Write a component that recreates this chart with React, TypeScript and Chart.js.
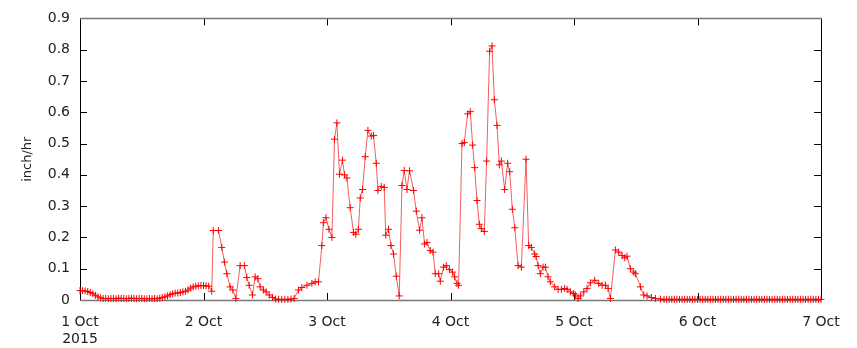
import React, { useEffect, useRef } from "react";
import { Chart, registerables } from "chart.js";

Chart.register(...registerables);

// hours since 1 Oct 2015 00:00
const hours: number[] = [
  0, 0.5, 1, 1.5, 2, 2.5, 3, 3.5, 4, 4.5, 5, 5.5, 6, 6.5, 7, 7.5, 8, 8.5, 9, 9.5,
  10, 10.5, 11, 11.5, 12, 12.5, 13, 13.5, 14, 14.5, 15, 15.5, 16, 16.5, 17, 17.5, 18, 18.5, 19, 19.5,
  20, 20.5, 21, 21.5, 22, 22.5, 23, 23.5, 24, 24.5, 25, 25.6,
  25.9, 26.9, 27.56, 28.06, 28.53, 29.17, 29.7, 30.28, 31.12, 31.95,
  32.42, 32.87, 33.51, 34.04, 34.56, 35.0, 35.65, 36.17, 36.76, 37.4,
  38, 38.6, 39.2, 39.8, 40.4, 41, 41.6, 42.46, 43.1, 44.1,
  45.06, 45.7, 46.35, 47.0, 47.3, 47.8, 48.38, 48.95, 49.46, 49.92,
  50.43, 51.01, 51.4, 51.87, 52.51, 53.15, 53.6, 54.1, 54.46, 54.9,
  55.43, 55.95, 56.6, 57.04, 57.57, 57.9, 58.54, 59.12, 59.42, 59.96,
  60.43, 60.93, 61.46, 62.04, 62.57, 63.01, 63.54, 64.04, 64.82, 65.35,
  65.99, 66.45, 66.96, 67.43, 68.07, 68.6, 69.04, 69.69, 70.02, 70.66,
  71.18, 71.82, 72.4, 72.8, 73.26, 73.57, 74.24, 74.68, 75.33, 75.85,
  76.3, 76.69, 77.15, 77.6, 77.99, 78.57, 79.02, 79.6, 80.07, 80.52,
  81.04, 81.49, 81.88, 82.52, 83.1, 83.5, 84.02, 84.5, 85.13, 85.77,
  86.68, 87.19, 87.71, 88.36, 88.63, 89.02, 89.46, 89.99, 90.44, 90.96,
  91.41, 92.25, 92.91, 93.55, 94.19, 94.66, 95.3, 95.94, 96.27, 96.8,
  97.25, 97.9, 98.54, 99.19, 100.03, 100.8, 101.46, 102.1, 102.63, 103.08,
  104.05, 104.69, 105.35, 105.86, 106.3, 106.97, 107.61, 107.94, 108.91, 109.55,
  110.2, 111.05, 111.83, 112.8,
  113.5, 114, 114.5, 115, 115.5, 116, 116.5, 117, 117.5, 118, 118.5, 119, 119.5, 120,
  120.5, 121, 121.5, 122, 122.5, 123, 123.5, 124, 124.5, 125, 125.5, 126, 126.5, 127,
  127.5, 128, 128.5, 129, 129.5, 130, 130.5, 131, 131.5, 132, 132.5, 133, 133.5, 134,
  134.5, 135, 135.5, 136, 136.5, 137, 137.5, 138, 138.5, 139, 139.5, 140, 140.5, 141,
  141.5, 142, 142.5, 143, 143.5, 144,
];

// rain rate, inch/hr
const rate: number[] = [
  0.03, 0.03, 0.029, 0.027, 0.024, 0.02, 0.015, 0.01, 0.007, 0.005,
  0.005, 0.004, 0.005, 0.005, 0.004, 0.006, 0.005, 0.005, 0.004, 0.005,
  0.006, 0.005, 0.004, 0.005, 0.005, 0.004, 0.004, 0.005, 0.004, 0.005,
  0.004, 0.006, 0.008, 0.01, 0.013, 0.017, 0.02, 0.022, 0.022, 0.024,
  0.026, 0.028, 0.032, 0.038, 0.042, 0.044, 0.045, 0.046, 0.046, 0.045,
  0.044, 0.028,
  0.222, 0.222, 0.168, 0.121, 0.084, 0.042, 0.032, 0.005, 0.11, 0.11,
  0.072, 0.047, 0.016, 0.074, 0.068, 0.042, 0.032, 0.026, 0.016, 0.008,
  0.003, 0.002, 0.002, 0.002, 0.002, 0.003, 0.005, 0.032, 0.04, 0.047,
  0.053, 0.058, 0.058, 0.174, 0.247, 0.263, 0.226, 0.2, 0.514, 0.566,
  0.402, 0.447, 0.4, 0.39, 0.295, 0.216, 0.21, 0.226, 0.326, 0.353,
  0.458, 0.542, 0.524, 0.526, 0.437, 0.35, 0.363, 0.36, 0.207, 0.226,
  0.174, 0.147, 0.076, 0.013, 0.366, 0.414, 0.353, 0.413, 0.35, 0.284,
  0.223, 0.263, 0.179, 0.184, 0.158, 0.153, 0.084, 0.084, 0.06, 0.105,
  0.11, 0.097, 0.089, 0.074, 0.053, 0.047, 0.5, 0.503, 0.595, 0.602,
  0.495, 0.423, 0.318, 0.242, 0.228, 0.219, 0.444, 0.795, 0.812, 0.64,
  0.558, 0.432, 0.444, 0.353, 0.437, 0.41, 0.29, 0.231, 0.11, 0.105,
  0.45, 0.174, 0.168, 0.147, 0.139, 0.11, 0.084, 0.105, 0.105, 0.074,
  0.058, 0.042, 0.034, 0.034, 0.037, 0.034, 0.026, 0.021, 0.016, 0.005,
  0.013, 0.026, 0.037, 0.055, 0.063, 0.053, 0.047, 0.047, 0.037, 0.005,
  0.16, 0.153, 0.142, 0.135, 0.14, 0.1, 0.089, 0.084, 0.042, 0.016,
  0.013, 0.008, 0.005, 0.003,
  0.002, 0.002, 0.002, 0.002, 0.002, 0.002, 0.002, 0.002, 0.002, 0.002, 0.002, 0.002, 0.002, 0.002,
  0.002, 0.002, 0.002, 0.002, 0.002, 0.002, 0.002, 0.002, 0.002, 0.002, 0.002, 0.002, 0.002, 0.002,
  0.002, 0.002, 0.002, 0.002, 0.002, 0.002, 0.002, 0.002, 0.002, 0.002, 0.002, 0.002, 0.002, 0.002,
  0.002, 0.002, 0.002, 0.002, 0.002, 0.002, 0.002, 0.002, 0.002, 0.002, 0.002, 0.002, 0.002, 0.002,
  0.002, 0.002, 0.002, 0.002, 0.002, 0.002,
];

const dayTickLabels: (string | string[])[] = [
  ["1 Oct", "2015"],
  "2 Oct",
  "3 Oct",
  "4 Oct",
  "5 Oct",
  "6 Oct",
  "7 Oct",
];
const yTickLabels: string[] = ["0", "0.1", "0.2", "0.3", "0.4", "0.5", "0.6", "0.7", "0.8", "0.9"];
const yTitle = "inch/hr";

const FONT = "'DejaVu Sans', sans-serif";

const framePlugin = {
  id: "gnuFrame",
  beforeDatasetsDraw(chart: any) {
    const { ctx, chartArea, scales } = chart;
    const { left, right, top, bottom } = chartArea;
    const x = scales.x;
    const y = scales.y;
    const len = 7;
    ctx.save();
    ctx.lineWidth = 1;
    // ticks
    ctx.strokeStyle = "#000";
    ctx.beginPath();
    y.ticks.forEach((t: any) => {
      const py = Math.round(y.getPixelForValue(t.value)) + 0.5;
      ctx.moveTo(left, py);
      ctx.lineTo(left + len, py);
      ctx.moveTo(right, py);
      ctx.lineTo(right - len, py);
    });
    x.ticks.forEach((t: any) => {
      const px = Math.round(x.getPixelForValue(t.value)) + 0.5;
      ctx.moveTo(px, bottom);
      ctx.lineTo(px, bottom - len);
      ctx.moveTo(px, top);
      ctx.lineTo(px, top + len);
    });
    ctx.stroke();
    // frame
    ctx.strokeStyle = "#000";
    ctx.beginPath();
    ctx.moveTo(Math.round(left) + 0.5, top);
    ctx.lineTo(Math.round(left) + 0.5, bottom);
    ctx.moveTo(Math.round(right) + 0.5, top);
    ctx.lineTo(Math.round(right) + 0.5, bottom);
    ctx.stroke();
    ctx.strokeStyle = "#777";
    ctx.lineWidth = 1.5;
    ctx.beginPath();
    ctx.moveTo(left, Math.round(top) + 0.5);
    ctx.lineTo(right + 1, Math.round(top) + 0.5);
    ctx.moveTo(left, Math.round(bottom) + 0.5);
    ctx.lineTo(right + 1, Math.round(bottom) + 0.5);
    ctx.stroke();
    ctx.restore();
  },
};

export default function App() {
  const canvasRef = useRef<HTMLCanvasElement | null>(null);

  useEffect(() => {
    const canvas = canvasRef.current;
    if (!canvas) return;
    const points = hours.map((h, i) => ({ x: h, y: rate[i] }));
    const chart = new Chart(canvas, {
      type: "line",
      data: {
        datasets: [
          {
            data: points,
            borderColor: "rgba(240, 40, 40, 0.75)",
            borderWidth: 1,
            pointStyle: "cross",
            pointRadius: 3.5,
            pointBorderColor: "#ff0000",
            pointBorderWidth: 1,
            pointBackgroundColor: "#ff0000",
            tension: 0,
            clip: false,
          } as any,
        ],
      },
      options: {
        responsive: false,
        animation: false,
        events: [],
        layout: { padding: { top: 15, right: 36, left: 0, bottom: 0 } },
        plugins: {
          legend: { display: false },
          tooltip: { enabled: false },
        },
        scales: {
          x: {
            type: "linear",
            min: 0,
            max: 144,
            grid: { display: false },
            border: { display: false },
            afterFit: (s: any) => {
              s.height = 48;
            },
            ticks: {
              stepSize: 24,
              autoSkip: false,
              maxRotation: 0,
              padding: 6,
              color: "#222",
              font: { family: FONT, size: 14 },
              callback: (v: any) => dayTickLabels[Math.round(Number(v) / 24)] ?? "",
            },
          },
          y: {
            min: 0,
            max: 0.9,
            grid: { display: false, drawTicks: false },
            border: { display: false },
            afterFit: (s: any) => {
              s.width = 80;
            },
            ticks: {
              stepSize: 0.1,
              padding: 10,
              color: "#222",
              font: { family: FONT, size: 14 },
              callback: (v: any) => yTickLabels[Math.round(Number(v) * 10)] ?? "",
            },
            title: {
              display: true,
              text: yTitle,
              color: "#222",
              font: { family: FONT, size: 13 },
              padding: { top: 20, bottom: 0 },
            },
          },
        },
      },
      plugins: [framePlugin],
    });
    return () => chart.destroy();
  }, []);

  return (
    <div style={{ position: "fixed", left: 0, top: 0, width: 857, height: 348, background: "#fff" }}>
      <canvas ref={canvasRef} width={857} height={348} />
    </div>
  );
}
